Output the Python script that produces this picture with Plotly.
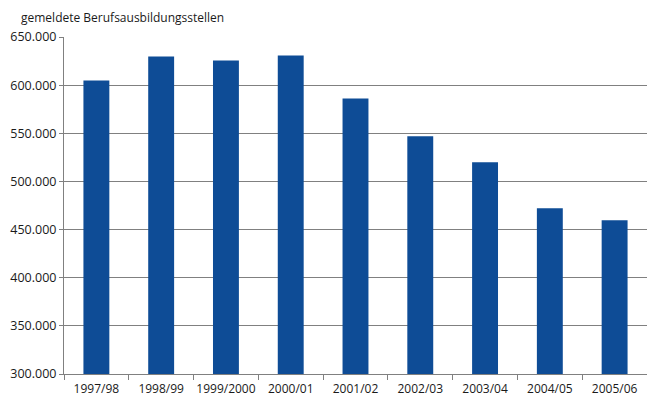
import plotly.graph_objects as go

# Reported training positions per training year
years = ["1997/98", "1998/99", "1999/2000", "2000/01", "2001/02",
         "2002/03", "2003/04", "2004/05", "2005/06"]
stellen = [604900, 629800, 625600, 630800, 586200,
           546900, 520000, 472100, 459600]

y_ticks = [300000, 350000, 400000, 450000, 500000, 550000, 600000, 650000]

FONT = "Open Sans"
BAR = "#0E4C96"
GRID = "#808080"

fig = go.Figure(
    go.Bar(
        x=years,
        y=stellen,
        marker=dict(color=BAR, line=dict(width=0)),
        hoverinfo="x+y",
    )
)

fig.update_layout(
    width=647,
    height=397,
    margin=dict(l=64, r=0, t=37, b=23),
    paper_bgcolor="white",
    plot_bgcolor="white",
    bargap=0.6,
    showlegend=False,
    separators=",.",
    font=dict(family=FONT, size=12, color="#1a1a1a"),
    annotations=[
        dict(
            text="gemeldete Berufsausbildungsstellen",
            xref="paper", yref="paper",
            x=0, y=1,
            xanchor="left", yanchor="middle",
            xshift=-45, yshift=20,
            showarrow=False,
            font=dict(family=FONT, size=12, color="#1a1a1a"),
        )
    ],
)

fig.update_xaxes(
    type="category",
    tickson="boundaries",
    ticks="outside",
    ticklen=5,
    tickcolor=GRID,
    tickangle=0,
    ticklabelstandoff=4,
    automargin=False,
    showline=True,
    linecolor=GRID,
    linewidth=1,
    showgrid=False,
    tickfont=dict(family=FONT, size=12),
    fixedrange=True,
)

fig.update_yaxes(
    range=[300000, 650000],
    tickvals=y_ticks,
    tickformat=",d",
    ticks="outside",
    ticklen=4,
    tickcolor=GRID,
    automargin=False,
    showline=True,
    linecolor=GRID,
    linewidth=1,
    showgrid=True,
    gridcolor=GRID,
    gridwidth=1,
    zeroline=False,
    tickfont=dict(family=FONT, size=12.5),
    fixedrange=True,
)

fig.write_html("out.html")
